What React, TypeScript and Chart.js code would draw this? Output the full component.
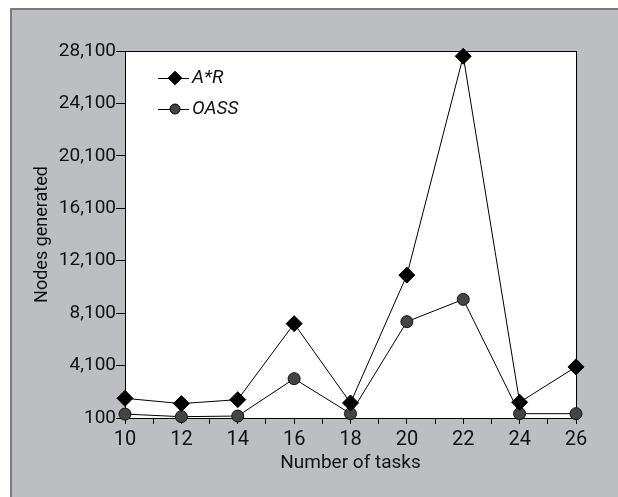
import { useEffect, useRef } from 'react';
import { Chart, registerables } from 'chart.js';

Chart.register(...registerables);

// ---- data ----
const tasks = [10, 12, 14, 16, 18, 20, 22, 24, 26];
const aStarR = [1600, 1200, 1500, 7300, 1250, 11000, 27700, 1300, 4000];
const oass = [400, 200, 250, 3100, 430, 7450, 9150, 430, 430];
const yTickValues = [100, 4100, 8100, 12100, 16100, 20100, 24100, 28100];
const seriesNames = ['A*R', 'OASS'];
const xTitle = 'Number of tasks';
const yTitle = 'Nodes generated';

const FONT = "Roboto, 'Liberation Sans', sans-serif";
const TEXT = '#111111';

const panelPlugin = {
  id: 'panel',
  beforeDraw(chart: any) {
    const { ctx, width, height, chartArea: a } = chart;
    ctx.save();
    ctx.fillStyle = '#ffffff';
    ctx.fillRect(0, 0, width, height);
    ctx.fillStyle = '#bdbec2';
    ctx.fillRect(11, 9, width - 11, height - 9);
    ctx.strokeStyle = '#7b7b7b';
    ctx.lineWidth = 2;
    ctx.beginPath();
    ctx.moveTo(11, height);
    ctx.lineTo(11, 9);
    ctx.lineTo(width, 9);
    ctx.stroke();
    ctx.fillStyle = '#ffffff';
    ctx.fillRect(a.left, a.top, a.right - a.left, a.bottom - a.top);
    ctx.restore();
  },
  beforeDatasetsDraw(chart: any) {
    const { ctx, chartArea: a } = chart;
    ctx.save();
    ctx.strokeStyle = '#000';
    ctx.lineWidth = 1;
    ctx.strokeRect(Math.round(a.left) + 0.5, Math.round(a.top) + 0.5, Math.round(a.right - a.left), Math.round(a.bottom - a.top));
    ctx.restore();
  },
};

const legendPlugin = {
  id: 'innerLegend',
  afterDatasetsDraw(chart: any) {
    const { ctx, chartArea: a } = chart;
    const rows = [a.top + 27, a.top + 58];
    ctx.save();
    chart.data.datasets.forEach((ds: any, i: number) => {
      const y = rows[i];
      const x0 = a.left + 33;
      const x1 = a.left + 64;
      const cx = a.left + 50;
      ctx.strokeStyle = '#000';
      ctx.lineWidth = 1;
      ctx.beginPath();
      ctx.moveTo(x0, y + 0.5);
      ctx.lineTo(x1, y + 0.5);
      ctx.stroke();
      ctx.fillStyle = ds.pointBackgroundColor;
      ctx.beginPath();
      if (ds.pointStyle === 'rectRot') {
        const h = 6.8;
        ctx.moveTo(cx, y - h);
        ctx.lineTo(cx + h, y);
        ctx.lineTo(cx, y + h);
        ctx.lineTo(cx - h, y);
        ctx.closePath();
      } else {
        ctx.arc(cx, y, 5, 0, Math.PI * 2);
      }
      ctx.fill();
      ctx.stroke();
      ctx.fillStyle = TEXT;
      ctx.font = `italic 19px ${FONT}`;
      ctx.textBaseline = 'middle';
      ctx.textAlign = 'left';
      ctx.fillText(ds.label, a.left + 67, y);
    });
    ctx.restore();
  },
};

export default function App() {
  const ref = useRef<HTMLCanvasElement | null>(null);

  useEffect(() => {
    if (!ref.current) return;
    const chart = new Chart(ref.current, {
      type: 'line',
      data: {
        datasets: [
          {
            label: seriesNames[0],
            data: tasks.map((t, i) => ({ x: t, y: aStarR[i] })),
            borderColor: '#000',
            borderWidth: 1,
            pointStyle: 'rectRot',
            pointRadius: 8,
            pointBackgroundColor: '#000',
            pointBorderColor: '#000',
            pointBorderWidth: 1,
            tension: 0,
            clip: false,
          } as any,
          {
            label: seriesNames[1],
            data: tasks.map((t, i) => ({ x: t, y: oass[i] })),
            borderColor: '#000',
            borderWidth: 1,
            pointStyle: 'circle',
            pointRadius: 6,
            pointBackgroundColor: '#444444',
            pointBorderColor: '#111',
            pointBorderWidth: 1,
            tension: 0,
            clip: false,
          } as any,
        ],
      },
      options: {
        responsive: false,
        devicePixelRatio: 1,
        animation: false,
        layout: { padding: { left: 32, top: 51, right: 42, bottom: 22 } },
        plugins: { legend: { display: false }, tooltip: { enabled: false } },
        scales: {
          x: {
            type: 'linear',
            min: tasks[0],
            max: tasks[tasks.length - 1],
            border: { display: false },
            grid: { drawOnChartArea: false, drawTicks: true, tickLength: 6, color: '#000' },
            ticks: {
              stepSize: 1,
              autoSkip: false,
              maxRotation: 0,
              padding: 4,
              color: TEXT,
              font: { family: FONT, size: 20 },
              callback: (v: any) => (Number(v) % 2 === 0 ? String(v) : ''),
            },
            title: { display: true, text: xTitle, color: TEXT, font: { family: FONT, size: 19 }, padding: 0 },
            afterFit: (s: any) => { s.height = 57; },
          },
          y: {
            type: 'linear',
            min: yTickValues[0],
            max: yTickValues[yTickValues.length - 1],
            border: { display: false },
            grid: { drawOnChartArea: false, drawTicks: true, tickLength: 9, color: '#000' },
            afterBuildTicks: (s: any) => { s.ticks = yTickValues.map((v) => ({ value: v })); },
            ticks: {
              padding: 0,
              color: TEXT,
              font: { family: FONT, size: 19 },
              callback: (v: any) => Number(v).toLocaleString('en-US'),
            },
            title: { display: true, text: yTitle, color: TEXT, font: { family: FONT, size: 18 }, padding: 0 },
            afterFit: (s: any) => { s.width = 93; },
          },
        },
      } as any,
      plugins: [panelPlugin, legendPlugin],
    });
    return () => chart.destroy();
  }, []);

  return (
    <div style={{ position: 'absolute', left: 0, top: 0, width: 618, height: 497 }}>
      <canvas ref={ref} width={618} height={497} style={{ display: 'block' }} />
    </div>
  );
}
